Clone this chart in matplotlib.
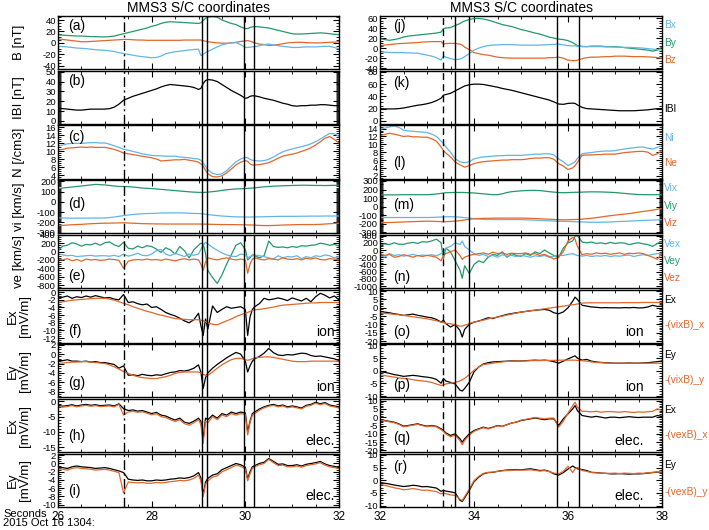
import numpy as np
import matplotlib
matplotlib.use('Agg')
import matplotlib.pyplot as plt
from matplotlib.ticker import MultipleLocator, FormatStrFormatter
from matplotlib import font_manager

plt.rcParams['font.family'] = ['Liberation Sans', 'DejaVu Sans']
_names = {f.name for f in font_manager.fontManager.ttflist}
NARROW = 'Liberation Sans Narrow' if 'Liberation Sans Narrow' in _names else 'Liberation Sans'

BLUE = '#62b5e5'
GREEN = '#23996a'
ORANGE = '#e2672a'

# sample times, seconds after 13:04 (0.1 s grid plus a few extra samples at the spikes)
t_left = sorted(set(np.round(np.arange(26.0, 32.01, 0.1), 2)) | {29.05, 29.15, 30.05, 30.15})
t_right = sorted(set(np.round(np.arange(32.0, 38.01, 0.1), 2)) | {33.35, 33.75, 36.15})

# ---------------- left column (26-32 s) ----------------
a_by = [14, 13.5, 13, 12.5, 12, 12, 11.5, 11, 11, 10.5,
        10.5, 11, 12, 14, 16, 18, 20, 22, 24, 26,
        29, 31, 34, 36, 37, 36.5, 36, 35.5, 35, 34.5,
        34, 35, 39, 43, 45, 46, 45, 40, 37, 34, 32, 28,
        25, 25, 27, 28, 28.5, 28, 27, 26, 24, 22, 20, 18,
        16, 15.5, 15.5, 16, 16.5, 17, 17.5, 17, 16, 15, 14.5]
a_bz = [7, 6, 5, 4, 3, 2, 2, 2.5, 3, 3.5,
        4, 4.5, 5, 5.5, 6, 6, 5.5, 5, 5, 4.5,
        4.5, 4.5, 4.5, 4.5, 4.5, 4.5, 4.5, 5, 5, 5,
        5, 5, 4, 3, 2, 1, 0, -0.5, -0.5, 0, 1, 2.5,
        3.5, 4, 3, 1.5, 0, -2, -3, -4.5, -4, -3, -1.5, 0,
        0.5, 1, 1, 0.5, 0, 0, 0, 0.5, 1, 1.5, 2]
a_bx = [-6, -6.5, -7, -8, -9, -9.5, -10, -11, -12, -12.5,
        -13, -14, -15, -17, -18.5, -20, -21.5, -23, -24, -25,
        -26, -25.5, -23, -19, -17, -15.5, -14.5, -13.5, -12.5, -11.5,
        -11, -22, -20, -17, -15, -11, -7, -3.5, -1.5, 0, 0.5, -3,
        -8, -8, -7.5, -7, -6.5, -5, -3, -2, -3.5, -5, -6, -7,
        -8, -8, -7.5, -7, -7, -7, -6.5, -6, -6, -8, -10]
b_bt = [12.8, 12.5, 12, 11.5, 11, 11, 11.5, 12, 12, 12,
        12, 12.5, 14, 17, 21, 23, 25, 26.5, 28, 29.5,
        31, 32.5, 34.5, 36, 37, 36.5, 36, 35.5, 35, 34,
        32, 33, 38, 41, 42, 41.5, 40, 37, 34, 31, 28.5, 26,
        23, 23.5, 25, 25.5, 25.5, 24.5, 23, 22, 21, 19.5, 18, 17,
        15.5, 15, 15.5, 15.5, 16, 16, 16.5, 16.5, 16, 15.5, 15.5]
c_ni = [11.3, 11.6, 11.9, 12, 12, 12, 12.1, 12.2, 12.2, 12.1,
        12.1, 11.8, 11.4, 11, 10.5, 10.3, 10, 9.7, 9.4, 9.2,
        9, 8.9, 8.9, 8.8, 8.8, 8.8, 8.6, 8.5, 8.4, 8.2,
        8.1, 7.8, 7.1, 6.3, 5.4, 4.5, 4.2, 4.4, 5.2, 6.3, 7.4, 8.1,
        8.5, 8.4, 8, 7.8, 7.7, 7.6, 7.7, 8, 8.6, 9.3, 9.9, 10.3,
        10.6, 10.9, 11.2, 11.5, 11.9, 12.4, 13.1, 13.8, 14.5, 14.4, 13.8]
c_ne = [10.3, 10.5, 10.8, 10.9, 11, 11.1, 11, 11.1, 11, 11,
        11, 10.8, 10.5, 10.1, 9.6, 9.4, 9.2, 9, 8.8, 8.6,
        8.4, 8.1, 7.6, 7.7, 7.8, 7.9, 7.9, 8, 7.8, 7.6,
        7.3, 6.9, 6.3, 5.3, 4.4, 3.7, 3.6, 3.9, 4.6, 5.6, 6.6, 7.3,
        7.7, 7.5, 6.9, 6.6, 6.6, 6.7, 6.9, 7.2, 7.7, 8.3, 8.8, 9.1,
        9.3, 9.6, 10, 10.4, 10.9, 11.6, 12.4, 13.3, 13.7, 13, 12.1]
d_viy = [130, 135, 140, 145, 150, 155, 160, 165, 170, 168,
         165, 160, 155, 150, 150, 148, 145, 140, 135, 132,
         130, 126, 122, 118, 114, 110, 106, 102, 98, 95,
         93, 92, 92, 93, 95, 100, 105, 112, 118, 122, 126, 128,
         130, 131, 133, 135, 137, 142, 147, 150, 153, 155, 157, 158,
         160, 161, 162, 162, 161, 160, 160, 159, 160, 161, 162]
d_vix = [-155, -156, -157, -158, -158, -158, -157, -157, -156, -156,
         -156, -152, -147, -140, -133, -127, -122, -118, -115, -113,
         -112, -110, -108, -107, -106, -106, -107, -108, -110, -112,
         -113, -115, -117, -120, -123, -128, -133, -137, -140, -143, -145, -146,
         -147, -147, -147, -146, -146, -145, -144, -143, -142, -141, -140, -140,
         -140, -140, -139, -139, -138, -138, -138, -137, -137, -137, -137]
d_viz = [-230, -228, -225, -222, -220, -218, -215, -212, -210, -208,
         -207, -206, -205, -204, -203, -205, -207, -209, -211, -212,
         -213, -214, -214, -215, -215, -215, -215, -215, -215, -215,
         -215, -215, -216, -216, -217, -218, -219, -220, -220, -221, -221, -222,
         -223, -223, -224, -225, -226, -228, -230, -230, -229, -227, -225, -223,
         -222, -221, -220, -220, -220, -219, -218, -215, -212, -209, -207]
e_vey = [20, 130, 150, 210, 180, 130, 170, 160, 200, 150,
         210, 230, 160, 120, 220, 80, 60, 130, 90, 140,
         120, 60, -20, 90, 40, -60, 120, 20, -150, 40,
         150, 200, 180, -50, -450, -620, -760, -560, -300, -80, 150, 210,
         50, -200, -150, -80, -100, -150, -100, 250, 120, 100, 110, 90,
         120, 100, 140, 130, 150, 160, 200, 180, 150, 170, 130]
e_vex = [-50, -80, -100, -90, -120, -110, -100, -90, -110, -100,
         -100, -110, -90, -120, -60, -110, -80, -40, -90, -100,
         -60, 20, 50, -60, -100, -40, -80, -120, -60, -90,
         -60, 50, 150, 220, 180, 100, 30, -30, -80, -110, -120, -60,
         -80, -150, -120, -100, -80, -100, -120, -150, -180, -100, -150, -120,
         -130, -100, -170, -120, -150, -100, -120, -80, -100, -150, -120]
e_vez = [-180, -200, -170, -220, -190, -230, -180, -200, -190, -210,
         -200, -180, -190, -210, -400, -230, -200, -190, -200, -180,
         -200, -190, -210, -180, -200, -220, -190, -170, -200, -180,
         -200, -300, -450, -250, -150, -180, -200, -170, -150, -180, -200, -180,
         -200, -520, -300, -180, -150, -180, -200, -170, -180, -200, -150, -180,
         -190, -170, -200, -160, -180, -150, -190, -200, -170, -180, -200]
f_ex = [-1.5, -1.3, -1.0, -1.6, -1.2, -1.4, -1.0, -1.3, -0.9, -1.2,
        -1.5, -1.4, -1.8, -2.0, -0.6, -2.7, -2.5, -3.0, -3.3, -3.1,
        -4.0, -3.8, -4.5, -5.3, -5.8, -6.2, -6.8, -7.5, -8.0, -7.2,
        -5.5, -8.7, -11.3, -7.0, -9.6, -3.6, -5.3, -4.5, -3.8, -4.2, -4.0, -3.8,
        -4.5, -11.3, -6.5, -4.5, -3.8, -3.0, -1.6, -2.0, -1.8, -1.5, -1.8, -2.2,
        -1.5, -1.9, -2.3, -1.6, -2.5, -1.2, -0.3, -0.8, -1.5, -1.0, -2.0]
f_vxb = [-2.7, -2.5, -2.3, -2.1, -2.0, -1.9, -1.8, -1.7, -1.6, -1.6,
         -1.6, -1.8, -2.1, -2.5, -2.9, -3.3, -3.8, -4.2, -4.6, -5.0,
         -5.3, -5.7, -6.0, -6.3, -6.6, -6.9, -7.0, -7.1, -7.2, -7.2,
         -7.2, -7.3, -7.5, -7.7, -8.0, -8.4, -8.5, -8.0, -7.5, -7.0, -6.4, -5.9,
         -5.5, -5.3, -5.0, -4.8, -4.6, -4.5, -4.3, -4.1, -3.9, -3.6, -3.4, -3.3,
         -3.2, -3.1, -3.0, -2.9, -2.8, -2.8, -2.7, -2.7, -2.7, -2.7, -2.7]
g_ey = [-1.3, -1.4, -1.2, -1.5, -1.5, -1.6, -1.5, -1.7, -1.6, -1.8,
        -1.8, -2.0, -2.2, -3.0, -2.5, -4.5, -4.4, -4.6, -4.3, -4.5,
        -4.6, -4.4, -4.5, -4.2, -3.9, -3.8, -3.5, -3.6, -3.4, -3.0,
        -2.3, -3.8, -7.3, -5.0, -4.0, -3.0, -2.2, -1.5, -0.8, -0.2, 0.35, 0.0,
        -1.5, -3.8, -2.5, -1.5, -1.0, -0.5, 0.2, 1.2, 0.3, -0.2, -0.3, -0.1,
        -0.2, 0.0, 0.2, 0.1, -0.3, -0.5, -0.4, -0.6, -0.8, -1.0, -1.4]
g_vxb = [-2.0, -1.9, -1.8, -1.7, -1.7, -1.6, -1.6, -1.7, -1.8, -1.9,
         -2.0, -2.3, -2.7, -3.2, -3.7, -4.1, -4.5, -4.8, -5.0, -5.1,
         -5.2, -5.2, -5.0, -4.8, -4.5, -4.1, -3.9, -3.8, -3.8, -3.8,
         -3.8, -4.0, -4.3, -4.5, -4.5, -3.8, -3.0, -2.3, -1.7, -1.2, -0.9, -0.9,
         -1.2, -1.3, -1.2, -1.0, -0.8, -0.7, -0.6, -0.6, -0.7, -0.9, -1.1, -1.3,
         -1.5, -1.6, -1.6, -1.6, -1.5, -1.5, -1.5, -1.5, -1.5, -1.5, -1.5]
h_ex = [-1.3, -1.6, -1.4, -1.1, -1.5, -1.2, -1.0, -1.3, -1.1, -1.4,
        -1.3, -1.2, -1.5, -0.8, -2.4, -3.0, -2.8, -3.2, -3.0, -3.5,
        -4.0, -3.6, -4.5, -4.8, -5.5, -6.1, -5.5, -6.8, -7.2, -6.5,
        -5.5, -6.5, -12.0, -5.5, -6.0, -4.5, -5.5, -4.0, -4.5, -3.5, -4.0, -3.5,
        -3.8, -10.0, -6.5, -4.0, -3.5, -2.5, -1.8, -1.3, -1.0, -1.5, -1.2, -1.8,
        -1.5, -1.8, -2.2, -1.3, -1.0, -0.3, -0.8, -0.4, -1.2, -1.5, -1.8]
h_vxb = [-1.6, -1.9, -1.7, -1.4, -1.8, -1.5, -1.3, -1.6, -1.4, -1.7,
         -1.6, -1.5, -1.8, -1.0, -4.5, -3.5, -3.2, -3.6, -3.4, -3.9,
         -4.4, -4.0, -5.0, -5.3, -6.0, -6.6, -6.0, -7.3, -7.8, -7.0,
         -6.0, -7.5, -13.7, -6.5, -7.0, -5.0, -6.0, -4.5, -5.0, -4.0, -4.5, -4.0,
         -4.3, -11.0, -7.0, -4.5, -4.0, -2.9, -2.1, -1.6, -1.3, -1.8, -1.5, -2.1,
         -1.8, -2.1, -2.5, -1.6, -1.3, -0.6, -1.1, -0.7, -1.5, -1.8, -2.2]
i_ey = [-0.9, -1.0, -1.2, -0.8, -0.6, -0.8, -0.9, -1.0, -1.2, -1.1,
        -1.0, -1.2, -1.5, -1.8, -2.2, -3.8, -4.0, -4.1, -4.0, -4.2,
        -4.2, -4.0, -4.1, -4.0, -3.8, -3.7, -3.5, -3.6, -3.4, -3.0,
        -2.2, -3.5, -7.5, -4.5, -3.6, -2.8, -2.5, -1.5, -1.0, -0.5, 0.0, -0.3,
        -0.9, -3.8, -2.0, -0.8, -0.5, 0.0, 0.3, 1.2, 0.5, -0.2, -0.1, -0.5,
        -0.5, -0.3, -0.6, -0.2, 0.0, 0.2, 0.5, -0.1, -0.5, -0.7, -1.0]
i_vxb = [-1.3, -1.4, -1.6, -1.2, -1.0, -1.2, -1.3, -1.4, -1.6, -1.5,
         -1.4, -1.6, -1.9, -2.2, -7.1, -4.5, -4.6, -4.7, -4.6, -4.8,
         -4.8, -4.6, -4.7, -4.6, -4.4, -4.3, -4.1, -4.2, -4.0, -3.6,
         -2.8, -4.2, -8.0, -5.0, -4.2, -3.3, -3.0, -2.0, -1.5, -1.0, -0.4, -0.7,
         -1.3, -4.2, -2.5, -1.2, -0.8, -0.3, 0.0, 1.0, 0.2, -0.5, -0.4, -0.8,
         -0.8, -0.6, -0.9, -0.5, -0.3, -0.1, 0.2, -0.4, -0.8, -1.0, -1.3]

# ---------------- right column (32-38 s) ----------------
j_by = [19, 17, 15.6, 17, 19, 22, 24, 25, 26, 27,
        28, 29, 30, 32, 39, 40, 41, 45, 49, 52, 54, 57,
        59, 59, 58, 56, 53, 50, 47, 45, 43, 40,
        37, 35, 32.5, 30, 28, 25, 22, 20, 18, 17,
        15, 11, 8, 5, 3, 3, 4, 4, 4, 3, 3,
        3, 2, 1, 0, -1, -2, -3, -4, -6, -4, 2]
j_bz = [5, 6, 7, 8, 9, 9.5, 10, 10.5, 11, 12,
        12.5, 13, 13, 13, 8, 9, 9.5, 9.4, 8, 6, 2, -3,
        -9, -11, -13, -14, -16, -18, -19, -19.5, -20, -20,
        -20, -20, -20, -20, -20, -20, -19, -19, -18, -20,
        -24, -25, -25, -24, -21, -19, -18, -18, -17.5, -17, -17,
        -16, -16, -16, -16.5, -17, -17, -17, -17.5, -18, -19, -20]
j_bx = [-7.5, -8, -8.5, -9, -9, -9, -9.5, -10, -10, -12,
        -14, -16, -19, -24, -15.6, -18, -21, -23, -22, -20, -17, -11,
        -4, 0, 3, 5, 6, 6.5, 7, 7, 7, 6.5,
        6, 6, 6, 6, 6, 6.5, 7, 7.5, 8, 6.5,
        5, 4.5, 4.5, 4, 3.5, 3, 3, 3, 3, 2.5, 2.5,
        2, 2, 1.5, 1.5, 1, 0.6, 0, -1, -2, -3, -4]
k_bt = [20, 19.5, 19.5, 19.5, 20, 21, 22.5, 24, 25.5, 26.5,
        28, 30, 33, 37, 42, 43, 45, 49, 53, 55, 57, 59,
        60, 60, 59.5, 58, 56.5, 55, 53, 51.5, 50, 48,
        46, 44, 42, 40, 38, 36, 34, 31, 27.5, 27,
        28.5, 29, 28.5, 26, 22, 20, 19.5, 19, 18.5, 18, 17.5,
        17, 16.5, 16.5, 16.5, 16.5, 17, 17.5, 18, 19, 20, 20]
l_ni = [13.8, 14.1, 14.4, 14.7, 14.3, 13.6, 13.4, 13.3, 13.2, 13.1,
        13, 12.6, 12, 10.8, 10.3, 9.3, 8, 6.3, 5.6, 5.4, 5.3, 5.6,
        6.3, 6.6, 6.8, 6.9, 7.0, 7.1, 7.1, 7.2, 7.2, 7.2,
        7.2, 7.3, 7.4, 7.5, 7.5, 7.6, 7.6, 7.3, 6.3, 5.6,
        4.6, 5.2, 5.6, 6.4, 7.6, 7.8, 7.9, 8.1, 8.2, 8.3, 8.3,
        8.4, 8.6, 8.8, 9.0, 9.1, 9.3, 9.3, 9.0, 8.8, 9.2, 9.7]
l_ne = [12.2, 12.5, 12.8, 12.6, 12.3, 12.0, 12.1, 11.9, 11.9, 11.8,
        11.8, 11.4, 10.8, 9.3, 8.4, 7.8, 6.8, 5.5, 4.8, 4.5, 4.2, 4.6,
        5.1, 5.4, 5.6, 5.7, 5.8, 5.9, 6.0, 6.0, 6.1, 6.1,
        6.1, 6.2, 6.4, 6.5, 6.5, 6.6, 6.6, 6.2, 5.1, 4.5,
        3.6, 4.0, 4.6, 5.4, 7.2, 7.3, 7.3, 7.4, 7.4, 7.5, 7.5,
        7.5, 7.7, 7.9, 8.0, 8.1, 8.2, 8.2, 8.0, 7.2, 7.6, 8.4]
m_viy = [137, 137, 138, 138, 139, 140, 140, 140, 140, 140,
         140, 143, 148, 155, 160, 163, 165, 166, 166, 166, 165, 162,
         160, 155, 150, 145, 140, 140, 150, 165, 175, 180,
         185, 188, 190, 190, 188, 182, 175, 170, 165, 163,
         165, 167, 168, 168, 170, 172, 173, 173, 172, 170, 168,
         165, 160, 155, 150, 145, 142, 140, 140, 140, 140, 140]
m_vix = [-126, -126, -126, -126, -126, -126, -126, -126, -126, -126,
         -126, -125, -123, -120, -119, -118, -116, -118, -122, -124, -128, -132,
         -140, -144, -148, -150, -150, -150, -150, -150, -150, -150,
         -150, -152, -155, -157, -160, -162, -165, -168, -170, -171,
         -172, -174, -175, -176, -178, -180, -182, -182, -181, -180, -178,
         -175, -172, -170, -168, -165, -162, -160, -158, -156, -154, -152]
m_viz = [-186, -185, -184, -182, -180, -178, -176, -174, -172, -170,
         -168, -170, -172, -174, -175, -174, -172, -168, -162, -158, -154, -148,
         -140, -138, -136, -135, -134, -133, -133, -133, -133, -133,
         -133, -134, -136, -138, -140, -143, -146, -149, -152, -153,
         -152, -150, -149, -148, -145, -140, -135, -128, -120, -112, -105,
         -98, -92, -86, -80, -72, -63, -55, -48, -40, -30, -21]
n_vey = [130, 170, 150, 200, 160, 157, 190, 210, 180, 230,
         218, 250, 300, 200, -250, 50, -50, -300, -550, -780, -435, -650,
         -400, -300, -350, -200, -120, -150, -50, -200, -100, -150,
         -174, -100, -150, -50, -100, 0, -80, -150, -200, 50,
         200, 250, 380, 400, 220, 200, 220, 180, 200, 170, 210,
         180, 200, 190, 150, 180, 200, 170, 150, 100, 180, 230]
n_vex = [-150, -200, -100, -150, -130, -170, -150, -120, -160, -140,
         -150, -130, -160, -100, -50, 50, 100, 200, 150, 250, 100, 0,
         -100, -150, -120, -180, -150, -200, -130, -170, -150, -180,
         -150, -170, -200, -160, -180, -150, -200, -170, -150, -150,
         -120, -100, -130, -150, -170, -150, -180, -160, -170, -150, -180,
         -160, -170, -150, -140, -180, -150, -130, -150, -120, -100, -100]
n_vez = [-100, -150, -120, -200, -180, -130, -160, -200, -150, -180,
         -150, -170, -200, -300, -150, -100, -50, 0, -150, -260, -200, -150,
         -120, -100, -80, -120, -60, -100, -80, -120, -90, -100,
         -100, -80, -120, -100, -150, -120, -180, -250, -200, -50,
         250, 350, 300, 100, -130, -100, -120, -80, -100, -90, -120,
         -100, -80, -120, -90, -100, -80, -100, -150, -200, -260, -100]
o_ex = [-2.2, -2.6, -3.0, -3.6, -4.0, -4.6, -4.2, -3.8, -4.5, -5.0,
        -5.6, -6.0, -7.0, -8.6, -7.5, -9.5, -11.6, -10.0, -13.6, -17.6, -13, -10,
        -8.6, -8.0, -7.0, -6.0, -6.5, -5.5, -4.8, -4.0, -3.5, -3.0,
        -2.6, -2.2, -1.8, -1.5, -1.2, -1.0, -1.5, -3.0, -3.6, -2.5,
        0.0, 4.0, 6.4, 5.0, 1.5, 1.0, 0.5, 0.3, 0.0, 0.1, 0.0,
        0.0, -0.1, 0.1, 0.0, 0.2, -0.1, 0.0, 0.5, 1.5, 0.8, 1.0]
o_vxb = [-3.2, -3.4, -3.6, -3.9, -4.2, -4.6, -5.0, -5.4, -5.8, -6.2,
         -6.6, -7.2, -7.8, -8.6, -9.0, -9.3, -9.6, -10.2, -11.0, -11.0, -10.5, -9.5,
         -8.6, -8.0, -7.4, -6.7, -6.1, -5.6, -5.0, -4.4, -3.8, -3.2,
         -2.6, -2.2, -1.8, -1.4, -1.0, -0.6, -0.2, 0.2, 0.6, 1.0,
         1.4, 1.8, 2.0, 2.3, 2.8, 3.0, 3.0, 3.0, 3.0, 3.0, 3.0,
         3.0, 3.0, 3.1, 3.1, 3.1, 3.1, 3.2, 3.2, 3.2, 3.2, 3.2]
p_ey = [-0.4, -0.6, -1.0, -1.5, -1.8, -2.2, -2.0, -1.8, -2.0, -2.3,
        -2.5, -2.8, -3.4, -4.9, -3.0, -4.0, -4.6, -5.2, -7.6, -8.0, -7.0, -4.5,
        -0.4, 1.5, 2.7, 3.2, 3.5, 3.6, 3.7, 3.8, 3.9, 3.9,
        3.9, 4.0, 4.1, 4.2, 4.1, 4.2, 4.0, 3.6, 3.0, 3.8,
        4.7, 5.5, 5.9, 5.0, 4.2, 4.5, 3.8, 3.5, 3.3, 3.2, 3.1,
        3.0, 3.0, 3.0, 3.1, 3.0, 3.0, 3.1, 3.2, 3.4, 3.6, 3.9]
p_vxb = [-1.6, -1.9, -2.2, -2.5, -2.8, -3.0, -3.2, -3.5, -3.8, -4.0,
         -4.2, -4.6, -5.2, -5.8, -5.6, -5.2, -4.9, -4.6, -4.0, -3.5, -3.0, -1.5,
         0.2, 1.5, 2.5, 2.7, 3.0, 3.3, 3.5, 3.7, 3.8, 3.9,
         3.9, 3.9, 4.0, 4.0, 4.0, 4.1, 4.1, 4.1, 4.2, 4.2,
         4.2, 4.2, 4.2, 4.1, 4.0, 3.8, 3.5, 3.3, 3.2, 3.1, 3.0,
         3.0, 3.0, 3.0, 3.0, 3.0, 3.0, 3.0, 3.0, 3.0, 3.0, 3.0]
q_ex = [-1.6, -2.0, -2.5, -3.0, -4.0, -5.4, -5.0, -4.5, -4.0, -4.8,
        -5.4, -5.0, -5.5, -7.0, -8.0, -9.4, -11.0, -10.0, -13.0, -15.0, -13.0, -10.0,
        -8.0, -7.0, -6.0, -6.8, -6.0, -5.0, -5.5, -4.5, -3.5, -3.0,
        -2.0, -1.5, -1.0, -0.5, -1.0, -1.5, -1.0, -1.0, -5.0, -1.0,
        2.0, 5.0, 7.0, 4.0, 1.0, 0.5, 0.0, 0.5, 0.0, -0.5, 0.0,
        0.0, -0.3, 0.0, 0.3, 0.0, -0.2, 0.0, 0.0, 0.0, 1.0, 0.5]
q_vxb = [-1.8, -2.2, -2.8, -3.3, -4.3, -5.8, -5.3, -4.8, -4.3, -5.1,
         -5.7, -5.3, -5.8, -7.5, -8.6, -10.0, -11.8, -10.8, -14.0, -16.6, -14.0, -10.8,
         -8.5, -7.3, -6.3, -7.1, -6.2, -5.2, -5.6, -4.6, -3.5, -2.9,
         -1.8, -1.3, -0.7, -0.2, -0.6, -1.0, -0.6, -0.5, -6.0, -2.5,
         2.5, 7.0, 9.0, 6.0, 3.5, 3.5, 3.2, 3.6, 3.0, 3.3, 3.4,
         3.2, 3.0, 3.4, 3.1, 2.8, 3.2, 3.0, 3.3, 3.5, 5.0, 4.0]
r_ey = [-0.9, -1.2, -1.5, -1.9, -2.2, -2.5, -2.3, -2.0, -2.2, -2.6,
        -2.5, -2.8, -3.1, -4.4, -4.0, -4.3, -4.6, -5.0, -7.9, -8.4, -7.0, -4.0,
        -0.6, 1.2, 2.5, 3.0, 3.1, 3.5, 3.8, 4.0, 4.1, 4.2,
        4.1, 4.3, 4.5, 4.2, 3.8, 4.0, 3.5, 2.5, 2.0, 3.0,
        4.4, 5.6, 5.0, 4.5, 4.2, 3.8, 3.1, 3.0, 2.8, 2.7, 2.5,
        2.5, 2.6, 2.5, 2.4, 2.5, 2.5, 2.6, 2.8, 3.0, 3.2, 3.1]
r_vxb = [-1.6, -2.0, -2.5, -3.0, -3.3, -3.8, -3.6, -3.3, -3.6, -4.0,
         -3.9, -4.2, -4.5, -5.4, -5.0, -5.3, -5.8, -6.0, -7.5, -8.0, -6.5, -3.5,
         -0.2, 1.5, 2.7, 3.1, 3.2, 3.5, 3.7, 3.8, 3.9, 4.0,
         4.0, 4.0, 4.1, 3.9, 3.6, 3.8, 3.4, 2.8, 2.5, 3.5,
         5.5, 3.0, 4.5, 5.0, 3.8, 3.5, 3.0, 2.9, 2.8, 2.7, 2.7,
         2.8, 2.6, 2.8, 2.7, 2.6, 2.8, 2.7, 2.9, 3.1, 3.3, 3.2]

# event markers
left_dashdot = 27.4
left_lines = [29.07, 29.19, 29.98, 30.19]
right_dash = 33.33
right_lines = [33.59, 33.89, 35.76, 36.24]

# panel specs: letter, series, ylim, major, minor, letter y, note, tags, ylabel
left_panels = [
    ('(a)', [(a_by, GREEN), (a_bz, ORANGE), (a_bx, BLUE)], (-46, 47), 20, 5, 0.82, None, None, 'B [nT]'),
    ('(b)', [(b_bt, 'black')], (-3, 51), 10, 1, 0.8, None, None, 'IBI [nT]'),
    ('(c)', [(c_ni, BLUE), (c_ne, ORANGE)], (3.2, 16.5), 2, 0.5, 0.78, None, None, 'N [/cm3]'),
    ('(d)', [(d_viy, GREEN), (d_vix, BLUE), (d_viz, ORANGE)], (-305, 212), 100, 10, 0.55, None, None, 'vi [km/s]'),
    ('(e)', [(e_vey, GREEN), (e_vex, BLUE), (e_vez, ORANGE)], (-870, 400), 200, 50, 0.22, None, None, 've [km/s]'),
    ('(f)', [(f_ex, 'black'), (f_vxb, ORANGE)], (-13.2, 0.7), 2, 0.5, 0.22, 'ion', None, 'Ex\n[mV/m]'),
    ('(g)', [(g_ey, 'black'), (g_vxb, ORANGE)], (-9.2, 2.1), 2, 0.5, 0.27, 'ion', None, 'Ey\n[mV/m]'),
    ('(h)', [(h_ex, 'black'), (h_vxb, ORANGE)], (-16.6, 0.8), 5, 1, 0.3, 'elec.', None, 'Ex\n[mV/m]'),
    ('(i)', [(i_ey, 'black'), (i_vxb, ORANGE)], (-10.5, 2.4), 2, 0.5, 0.3, 'elec.', None, 'Ey\n[mV/m]'),
]
right_panels = [
    ('(j)', [(j_by, GREEN), (j_bz, ORANGE), (j_bx, BLUE)], (-42, 64), 20, 5, 0.82, None,
     [('Bx', BLUE, 0.84), ('By', GREEN, 0.5), ('Bz', ORANGE, 0.17)], None),
    ('(k)', [(k_bt, 'black')], (-5, 82), 20, 5, 0.76, None, [('IBI', 'black', 0.28)], None),
    ('(l)', [(l_ni, BLUE), (l_ne, ORANGE)], (1.3, 14.8), 2, 0.5, 0.3, None,
     [('Ni', BLUE, 0.77), ('Ne', ORANGE, 0.3)], None),
    ('(m)', [(m_viy, GREEN), (m_vix, BLUE), (m_viz, ORANGE)], (-310, 310), 100, 10, 0.53, None,
     [('Vix', BLUE, 0.85), ('Viy', GREEN, 0.52), ('Viz', ORANGE, 0.19)], None),
    ('(n)', [(n_vey, GREEN), (n_vex, BLUE), (n_vez, ORANGE)], (-1050, 420), 200, 50, 0.2, None,
     [('Vex', BLUE, 0.83), ('Vey', GREEN, 0.51), ('Vez', ORANGE, 0.19)], None),
    ('(o)', [(o_ex, 'black'), (o_vxb, ORANGE)], (-21, 11), 5, 1, 0.2, 'ion',
     [('Ex', 'black', 0.8), ('-(vixB)_x', ORANGE, 0.33)], None),
    ('(p)', [(p_ey, 'black'), (p_vxb, ORANGE)], (-10.5, 10.5), 5, 1, 0.24, 'ion',
     [('Ey', 'black', 0.8), ('-(vixB)_y', ORANGE, 0.32)], None),
    ('(q)', [(q_ex, 'black'), (q_vxb, ORANGE)], (-21, 11), 5, 1, 0.26, 'elec.',
     [('Ex', 'black', 0.8), ('-(vexB)_x', ORANGE, 0.32)], None),
    ('(r)', [(r_ey, 'black'), (r_vxb, ORANGE)], (-10.5, 10.5), 5, 1, 0.75, 'elec.',
     [('Ey', 'black', 0.78), ('-(vexB)_y', ORANGE, 0.27)], None),
]

W, H = 709, 530
fig = plt.figure(figsize=(W / 100, H / 100), dpi=100)


def draw_column(panels, t, xlim, x0, x1, marker, marker_style, lines, note_x, letter_x):
    top, ph, gap = 16, 53.2, 1.5
    for i, (letter, series, ylim, major, minor, ly, note, tags, ylab) in enumerate(panels):
        ptop = top + i * (ph + gap)
        ax = fig.add_axes([x0 / W, 1 - (ptop + ph) / H, (x1 - x0) / W, ph / H])
        for vals, col in series:
            ax.plot(t, vals, color=col, lw=0.9)
        ax.axvline(marker, color='black', lw=1.0, linestyle=marker_style)
        for xv in lines:
            ax.axvline(xv, color='black', lw=1.0)
        ax.set_xlim(*xlim)
        ax.set_ylim(*ylim)
        ax.yaxis.set_major_locator(MultipleLocator(major))
        ax.yaxis.set_minor_locator(MultipleLocator(minor))
        ax.yaxis.set_major_formatter(FormatStrFormatter('%d'))
        ax.xaxis.set_major_locator(MultipleLocator(2))
        ax.xaxis.set_minor_locator(MultipleLocator(0.5))
        ax.tick_params(which='both', direction='in', top=True, right=True, pad=1.5)
        ax.tick_params(axis='y', labelsize=6.8, labelfontfamily=NARROW)
        ax.tick_params(which='major', length=4, width=0.8)
        ax.tick_params(which='minor', length=2, width=0.6)
        for s in ax.spines.values():
            s.set_linewidth(1.0)
        if i < len(panels) - 1:
            ax.set_xticklabels([])
        else:
            ax.tick_params(axis='x', labelsize=8.5, pad=3)
        ax.text(letter_x, ly, letter, transform=ax.transAxes, fontsize=10, va='center', ha='left')
        if note:
            ax.text(note_x, 0.2, note, transform=ax.transAxes, fontsize=10, va='center', ha='right')
        if tags:
            for txt, col, ty in tags:
                ax.text(1.008, ty, txt, transform=ax.transAxes, fontsize=7.3, color=col,
                        va='center', ha='left', family=NARROW)
        if ylab:
            fig.text(19 / W, 1 - (ptop + ph / 2) / H, ylab, rotation=90, fontsize=9.5,
                     ha='center', va='center', linespacing=1.0)
    fig.text((x0 + x1) / 2 / W, 1 - 8 / H, 'MMS3 S/C coordinates', fontsize=10,
             ha='center', va='center')


draw_column(left_panels, t_left, (26, 32), 58, 339, left_dashdot, (0, (7, 2.5, 1.5, 2.5)),
            left_lines, 0.985, 0.035)
draw_column(right_panels, t_right, (32, 38), 380, 662, right_dash, (0, (5, 3)),
            right_lines, 0.935, 0.045)

fig.text(3 / W, 1 - 514 / H, 'Seconds', fontsize=8, ha='left', va='center')
fig.text(3 / W, 1 - 523 / H, '2015 Oct 16 1304:', fontsize=8, ha='left', va='center')

fig.savefig('out.png', dpi=100)
